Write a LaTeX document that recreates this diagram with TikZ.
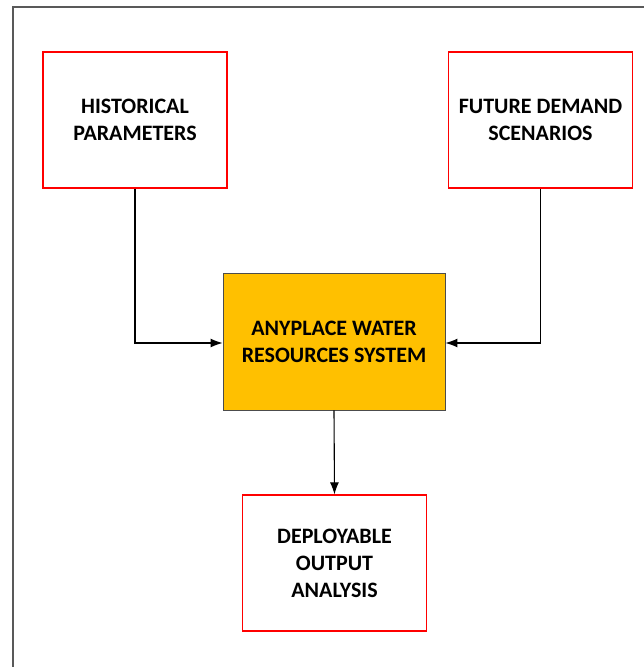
\documentclass[tikz,border=0pt]{standalone}
\usepackage{fontspec}
\setmainfont{Carlito}
\usetikzlibrary{arrows.meta}
\begin{document}
\begin{tikzpicture}[x=1pt,y=-1pt,
  redbox/.style={draw=red, line width=1.2pt, fill=white, minimum width=184pt, minimum height=136pt, inner sep=0pt, align=center, font=\bfseries\fontsize{22}{27}\selectfont},
  corebox/.style={draw=black!70, line width=0.9pt, fill={rgb,255:red,255;green,192;blue,0}, minimum width=222pt, minimum height=137pt, inner sep=0pt, align=center, font=\bfseries\fontsize{22}{27}\selectfont},
  conn/.style={draw=black, line width=1.1pt, -{Latex[length=12pt,width=9pt]}}]
\useasboundingbox (0,0) rectangle (643,667);
\draw[line width=2pt, draw=black!65] (13,668) -- (13,7) -- (644,7);
\node[redbox] (hist) at (135,120) {HISTORICAL\\PARAMETERS};
\node[redbox] (fut) at (540.5,120) {FUTURE DEMAND\\SCENARIOS};
\node[corebox] (core) at (334,341.5) {ANYPLACE WATER\\RESOURCES SYSTEM};
\node[redbox] (dep) at (334.5,563) {DEPLOYABLE\\OUTPUT\\ANALYSIS};
\coordinate (hl) at (135,343);
\coordinate (fl) at (540.5,343);
\draw[conn] (hist.south) -- (hl) -- (core.west |- hl);
\draw[conn] (fut.south) -- (fl) -- (core.east |- fl);
\draw[conn] (core.south) -- (dep.north);
\end{tikzpicture}
\end{document}
